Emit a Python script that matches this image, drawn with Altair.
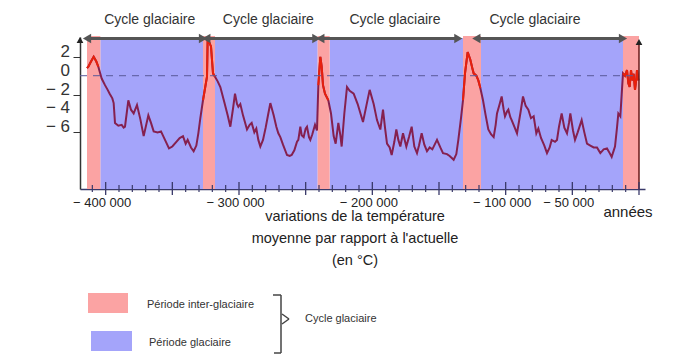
import altair as alt
import pandas as pd

# ---- data ----
years = [-414000, -413000, -411000, -409000, -407000, -405500, -403000, -400500, -398500, -397000,
         -395000, -394000, -393000, -390500, -388000, -386500, -385500, -383000, -381000, -379000,
         -376500, -374000, -371500, -368000, -366000, -364000, -361000, -358500, -355500, -352500,
         -350000, -347000, -344500, -342000, -340000, -338500, -336000, -334000, -332000, -330500,
         -329000, -327000, -324000, -323500, -321000, -319500, -318000, -316000, -314000, -311000,
         -308500, -306500, -304500, -303000, -301500, -300500, -299000, -297000, -294000, -292000,
         -290500, -288500, -287000, -285500, -284000, -282000, -280000, -278000, -276500, -274000,
         -272000, -270500, -269000, -267000, -264000, -262000, -260500, -258500, -256500, -255500,
         -254000, -253000, -251500, -250000, -249000, -247500, -246500, -245000, -243000, -241500,
         -240500, -239000, -238000, -237000, -235500, -233000, -231000, -229000, -227500, -225500,
         -224000, -223000, -221000, -219000, -217000, -214000, -211000, -207000, -204500, -202000,
         -199000, -196500, -194000, -192000, -190500, -189000, -187000, -185500, -183500, -182000,
         -180500, -179000, -177000, -174500, -172500, -170500, -168500, -166500, -165000, -163000,
         -161000, -159000, -157000, -155000, -151500, -149000, -147000, -144000, -142000, -139000,
         -137000, -135500, -133500, -132000, -130500, -128500, -126500, -125000, -124000, -122000,
         -120500, -119000, -117000, -115000, -113000, -111000, -109000, -107500, -106500, -104500,
         -103000, -101500, -100500, -99000, -98000, -96500, -95500, -93500, -91500, -89000,
         -87000, -85000, -83000, -81000, -79000, -77000, -75500, -73500, -71000, -69000,
         -67000, -65500, -63000, -61500, -60000, -58000, -56000, -54000, -52500, -51500,
         -49500, -48000, -46000, -43000, -41000, -39000, -36500, -34000, -31500, -29000,
         -26500, -24000, -22000, -20500, -18000, -16500, -15500, -14000, -13000, -12000,
         -10500, -9000, -8000, -7000, -6000, -5000, -4000, -3000, -2000, -1500, -500]
temps = [0.8, 0.95, 1.5, 2.0, 1.5, 0.95, -0.3, -1.0, -1.5, -1.9,
         -2.4, -2.9, -5.0, -5.3, -5.2, -5.5, -5.4, -2.6, -3.6, -4.0,
         -3.1, -4.6, -6.4, -4.2, -5.0, -5.9, -6.0, -5.9, -6.8, -7.7,
         -7.5, -7.0, -6.6, -6.4, -7.2, -6.8, -7.6, -8.0, -7.4, -6.1,
         -4.5, -2.6, -0.1, 3.9, 3.1, 0.25, -0.1, -0.6, -1.2, -2.8,
         -4.2, -5.4, -3.5, -1.9, -3.0, -3.3, -3.0, -4.2, -5.7, -5.2,
         -5.0, -6.0, -5.6, -6.8, -7.5, -6.8, -5.5, -4.0, -2.9, -4.2,
         -5.4, -6.1, -6.5, -7.3, -8.4, -8.5, -8.4, -7.9, -7.0, -6.8,
         -5.4, -6.3, -6.5, -5.6, -5.4, -6.5, -6.8, -6.2, -5.2, -5.8,
         -1.0, 2.0, 1.0, -1.0, -1.9, -2.6, -4.0, -6.4, -7.2, -5.0,
         -6.3, -7.5, -4.0, -1.2, -1.6, -1.9, -3.0, -4.9, -3.2, -1.5,
         -3.0, -4.7, -5.7, -3.6, -5.5, -7.2, -7.6, -8.4, -7.0, -5.7,
         -6.8, -7.5, -6.1, -7.5, -6.5, -5.4, -7.5, -8.2, -7.4, -6.1,
         -7.3, -8.0, -7.6, -7.8, -6.8, -7.6, -8.2, -8.3, -8.5, -8.9,
         -8.3, -6.8, -4.5, -2.6, 0.25, 2.5, 1.7, 0.8, 0.25, 0.0,
         -0.5, -1.3, -2.6, -4.2, -5.7, -6.2, -6.5, -5.2, -4.0, -3.0,
         -2.2, -3.6, -4.3, -3.8, -3.6, -4.4, -4.7, -5.4, -6.1, -4.0,
         -2.2, -3.2, -3.6, -4.5, -4.3, -6.1, -5.6, -6.6, -7.4, -8.2,
         -7.6, -6.8, -7.0, -6.8, -5.4, -4.0, -5.5, -6.1, -5.0, -4.0,
         -5.8, -6.8, -6.0, -4.7, -6.0, -7.2, -7.4, -7.6, -7.6, -8.2,
         -7.8, -7.7, -8.2, -8.6, -7.5, -5.5, -4.0, -4.3, -2.0, 0.25,
         0.0, 0.6, -0.8, -1.2, 0.6, -0.5, 0.2, -1.5, -0.3, 0.6, -0.5]

inter_start = [-414000, -327000, -241000, -132000, -12000]
inter_end = [-404000, -318000, -232000, -118500, 0]
glac_start = [-404000, -318000, -232000, -118500]
glac_end = [-327000, -241000, -132000, -12000]

cycle_start = [-414000, -324500, -239000, -122000]
cycle_end = [-327000, -242000, -135500, -12000]
cycle_label_x = [-367000, -278000, -183000, -78000]
cycle_label = ["Cycle glaciaire"] * 4

x_label_values = [-400000, -300000, -200000, -100000, -50000]
y_label_values = [2, 0, -2, -4, -6]
tick_years = list(range(-410000, 1, 10000))

title_lines = ["variations de la température", "moyenne par rapport à l'actuelle", "(en °C)"]

# ---- tables ----
df = pd.DataFrame({"year": years, "temp": temps})
red_parts = []
for i, (s, e) in enumerate(zip(inter_start, inter_end)):
    part = df[(df.year >= s) & (df.year <= e)].copy()
    part["seg"] = i
    red_parts.append(part)
df_red = pd.concat(red_parts)

df_inter = pd.DataFrame({"s": inter_start, "e": inter_end})
df_glac = pd.DataFrame({"s": glac_start, "e": glac_end})
df_cycle = pd.DataFrame({"s": cycle_start, "e": cycle_end})
df_clab = pd.DataFrame({"x": cycle_label_x, "t": cycle_label})
df_ticks = pd.DataFrame({"year": tick_years})
df_ticks["major"] = df_ticks.year % 50000 == 0
df_ylab = pd.DataFrame({"v": y_label_values})
df_ylab["t"] = [("\u2212 " + str(-v)) if v < 0 else str(v) for v in y_label_values]
one = pd.DataFrame({"a": [0]})

XD = [-419250, 4500]
YD = [-12, 4.1]
W, H = 565, 152
SANS = "Liberation Sans, Arial, sans-serif"

xs = alt.Scale(domain=XD, nice=False, zero=False)
ys = alt.Scale(domain=YD, nice=False, zero=False)

x_axis = alt.Axis(values=x_label_values, ticks=False, grid=False, title=None, labelOverlap=False,
                  domainColor="#3a3a6a", domainWidth=1.5, labelFont=SANS, labelFontSize=13,
                  labelColor="#222", labelPadding=7, labelFlush=False, labelOffset=-4,
                  labelExpr="'\u2212 ' + replace(format(-datum.value, ','), ',', ' ')")
y_axis = alt.Axis(values=y_label_values, grid=False, title=None, tickSize=7, tickColor="#333",
                  labels=False, domainColor="#333", domainWidth=1.5)

glac = alt.Chart(df_glac).mark_rect(color="#a4a4fa").encode(
    x=alt.X("s:Q", scale=xs, axis=x_axis), x2="e:Q",
    y=alt.value(1), y2=alt.value(H))
inter = alt.Chart(df_inter).mark_rect(color="#fba3a3").encode(
    x="s:Q", x2="e:Q", y=alt.value(-1), y2=alt.value(H))

line = alt.Chart(df).mark_line(color="#85204f", strokeWidth=2).encode(
    x="year:Q", y=alt.Y("temp:Q", scale=ys, axis=y_axis))
line_red = alt.Chart(df_red).mark_line(color="#e8200c", strokeWidth=2).encode(
    x="year:Q", y="temp:Q", detail="seg:N")

ylabels = alt.Chart(df_ylab).mark_text(font=SANS, fontSize=17, color="#333", align="right",
                                       baseline="middle", dy=-5).encode(
    y="v:Q", x=alt.value(-10), text="t:N")

zero = alt.Chart(one).mark_rule(color="#5a5a9a", strokeDash=[7, 6], strokeWidth=1).encode(
    y=alt.datum(0), x=alt.datum(XD[0]), x2=alt.datum(0))

right_line = alt.Chart(one).mark_rule(color="#6a1a1a", strokeWidth=1.5).encode(
    x=alt.datum(0), y=alt.value(4), y2=alt.value(H))
right_head = alt.Chart(one).mark_point(shape="triangle-up", filled=True, color="#222",
                                        size=45, opacity=1).encode(x=alt.datum(0), y=alt.value(5))
left_head = alt.Chart(one).mark_point(shape="triangle-up", filled=True, color="#222",
                                       size=45, opacity=1).encode(x=alt.datum(XD[0]), y=alt.value(3))

ticks_major = alt.Chart(df_ticks[df_ticks.major]).mark_rule(color="#3a3a6a", strokeWidth=1.3).encode(
    x="year:Q", y=alt.value(H - 7), y2=alt.value(H + 6))
ticks_minor = alt.Chart(df_ticks[~df_ticks.major]).mark_rule(color="#3a3a6a", strokeWidth=1.2).encode(
    x="year:Q", y=alt.value(H - 4), y2=alt.value(H + 3))

cyc_line = alt.Chart(df_cycle).mark_rule(color="#555", strokeWidth=3).encode(
    x="s:Q", x2="e:Q", y=alt.value(1.5))
cyc_l = alt.Chart(df_cycle).mark_point(shape="triangle-left", filled=True, color="#555",
                                       size=90, opacity=1).encode(x="s:Q", y=alt.value(1.5))
cyc_r = alt.Chart(df_cycle).mark_point(shape="triangle-right", filled=True, color="#555",
                                       size=90, opacity=1).encode(x="e:Q", y=alt.value(1.5))
cyc_txt = alt.Chart(df_clab).mark_text(font=SANS, fontSize=14, color="#333",
                                       baseline="middle", align="center").encode(
    x="x:Q", y=alt.value(-17), text="t:N")

annees = alt.Chart(one).mark_text(font=SANS, fontSize=15, color="#222", align="center",
                                  baseline="middle").encode(
    x=alt.value(548), y=alt.value(175), text=alt.value("années"))
ax_title = alt.Chart(one).mark_text(font=SANS, fontSize=14.5, color="#222", align="center",
                                    baseline="middle", lineHeight=22).encode(
    x=alt.value(275), y=alt.value(180), text=alt.value(title_lines))

# ---- legend ----
leg_red = alt.Chart(one).mark_rect(color="#fba3a3").encode(
    x=alt.value(8), x2=alt.value(48), y=alt.value(256), y2=alt.value(276))
leg_blue = alt.Chart(one).mark_rect(color="#a4a4fa").encode(
    x=alt.value(11), x2=alt.value(52), y=alt.value(294), y2=alt.value(314))
leg_t1 = alt.Chart(one).mark_text(font=SANS, fontSize=11, color="#333", align="left",
                                  baseline="middle").encode(
    x=alt.value(67), y=alt.value(268), text=alt.value("Période inter-glaciaire"))
leg_t2 = alt.Chart(one).mark_text(font=SANS, fontSize=11, color="#333", align="left",
                                  baseline="middle").encode(
    x=alt.value(69), y=alt.value(306), text=alt.value("Période glaciaire"))
leg_t3 = alt.Chart(one).mark_text(font=SANS, fontSize=11, color="#333", align="left",
                                  baseline="middle").encode(
    x=alt.value(225), y=alt.value(282), text=alt.value("Cycle glaciaire"))

def seg(x1, y1, x2, y2):
    return alt.Chart(one).mark_rule(color="#444", strokeWidth=1.5).encode(
        x=alt.value(x1), y=alt.value(y1), x2=alt.value(x2), y2=alt.value(y2))

bracket = [seg(201, 258, 201, 316), seg(193, 258, 201, 258), seg(194, 316, 201, 316),
           seg(202, 277, 209, 282), seg(209, 282, 202, 287)]

chart = alt.layer(
    glac, inter, line, line_red, zero, right_line, ticks_major, ticks_minor, ylabels,
    cyc_line, cyc_l, cyc_r, cyc_txt, right_head, left_head, annees, ax_title,
    leg_red, leg_blue, leg_t1, leg_t2, leg_t3, *bracket
).properties(
    width=W, height=H,
    padding={"left": 72, "top": 29, "right": 47, "bottom": 165},
    autosize=alt.AutoSizeParams(type="none"),
    background="white"
).configure_view(stroke=None).configure_axis(labelOverlap=False)

chart.save("out.html", embed_options={"renderer": "svg", "actions": False})
